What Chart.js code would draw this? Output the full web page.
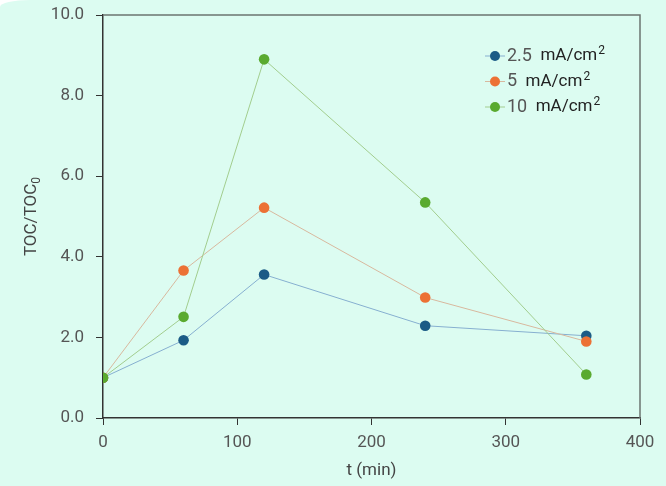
<!DOCTYPE html>
<html>
<head>
<meta charset="utf-8">
<script src="https://cdn.jsdelivr.net/npm/chart.js@4.4.1/dist/chart.umd.min.js"></script>
<style>
  html, body { margin:0; padding:0; background:#ffffff; }
  #wrap { position:absolute; left:0; top:0; width:666px; height:486px; background:#dcfcf1; border-top-left-radius: 30px 7px; overflow:hidden; }
  canvas { display:block; }
</style>
</head>
<body>
<div id="wrap"><canvas id="c" width="666" height="486"></canvas></div>
<script>
const times = [0, 60, 120, 240, 360];
const seriesNames = ["2.5", "5", "10"];
const unitLabel = "mA/cm";
const toc25 = [1.00, 1.93, 3.56, 2.29, 2.04];
const toc5  = [1.00, 3.66, 5.22, 2.99, 1.90];
const toc10 = [1.00, 2.51, 8.90, 5.35, 1.08];
const yTicks = [0, 2, 4, 6, 8, 10];
const xTicks = [0, 100, 200, 300, 400];

const markerColors = ["#1b5b86", "#ec7135", "#5aaa30"];
const lineColors = ["#86afd0", "#d8b89e", "#a2cd8e"];
const seriesValues = [toc25, toc5, toc10];

const FONT = "Roboto, 'Liberation Sans', sans-serif";

const datasets = seriesValues.map((vals, i) => ({
  label: seriesNames[i] + " " + unitLabel + "2",
  data: times.map((t, k) => ({x: t, y: vals[k]})),
  borderColor: lineColors[i],
  backgroundColor: markerColors[i],
  pointBackgroundColor: markerColors[i],
  pointBorderColor: markerColors[i],
  pointRadius: 5.3,
  pointBorderWidth: 0,
  borderWidth: 1,
  tension: 0,
  order: 3 - i
}));

const decor = {
  id: 'decor',
  afterDraw(chart) {
    const ctx = chart.ctx;
    const a = chart.chartArea;
    ctx.save();
    ctx.strokeStyle = "#6b7470";
    ctx.lineWidth = 1.5;
    ctx.beginPath();
    ctx.moveTo(a.left, a.top);
    ctx.lineTo(a.right, a.top);
    ctx.lineTo(a.right, a.bottom);
    ctx.stroke();

    ctx.fillStyle = "#444";
    ctx.translate(32, (a.top + a.bottom) / 2);
    ctx.rotate(-Math.PI / 2);
    ctx.font = "17px " + FONT;
    const main = "TOC/TOC";
    const w1 = ctx.measureText(main).width;
    ctx.font = "12px " + FONT;
    const w2 = ctx.measureText("0").width;
    const tot = w1 + w2;
    ctx.textBaseline = "middle";
    ctx.textAlign = "left";
    ctx.font = "17px " + FONT;
    ctx.fillText(main, -tot / 2, 0);
    ctx.font = "12px " + FONT;
    ctx.fillText("0", -tot / 2 + w1, 5);
    ctx.restore();

    ctx.save();
    ctx.fillStyle = "#444";
    ctx.font = "17px " + FONT;
    ctx.textAlign = "center";
    ctx.textBaseline = "middle";
    ctx.fillText("t (min)", (a.left + a.right) / 2, 471);
    ctx.restore();

    ctx.save();
    const lx = 485, ly0 = 56, dy = 25.5;
    seriesNames.forEach((nm, i) => {
      const y = ly0 + i * dy;
      ctx.strokeStyle = lineColors[i];
      ctx.lineWidth = 1;
      ctx.beginPath();
      ctx.moveTo(lx, y);
      ctx.lineTo(lx + 20, y);
      ctx.stroke();
      ctx.fillStyle = markerColors[i];
      ctx.beginPath();
      ctx.arc(lx + 10, y, 5, 0, Math.PI * 2);
      ctx.fill();
      ctx.textBaseline = "middle";
      ctx.textAlign = "left";
      ctx.font = "18px " + FONT;
      ctx.fillStyle = "#555";
      let x = lx + 22;
      ctx.fillText(nm, x, y);
      x += ctx.measureText(nm + " ").width + 4;
      ctx.fillStyle = "#222";
      ctx.font = "17px " + FONT;
      ctx.fillText(unitLabel, x, y);
      x += ctx.measureText(unitLabel).width + 1;
      ctx.font = "12px " + FONT;
      ctx.fillText("2", x, y - 5);
    });
    ctx.restore();
  }
};

new Chart(document.getElementById('c'), {
  type: 'line',
  data: { datasets },
  options: {
    responsive: false,
    animation: false,
    events: [],
    layout: { padding: { top: 15, right: 26, left: 0, bottom: 0 } },
    plugins: { legend: { display: false }, tooltip: { enabled: false } },
    scales: {
      x: {
        type: 'linear', min: 0, max: 400,
        afterBuildTicks: s => { s.ticks = xTicks.map(v => ({value: v})); },
        afterFit: s => { s.height = 68; s.paddingLeft = 0; s.paddingRight = 0; },
        grid: { drawOnChartArea: false, drawTicks: true, tickLength: 7, color: "#333", lineWidth: 1 },
        border: { color: "#333", width: 1.5 },
        ticks: { color: "#555", font: { family: FONT, size: 17 }, padding: 8, maxRotation: 0, callback: v => String(v) }
      },
      y: {
        type: 'linear', min: 0, max: 10,
        afterBuildTicks: s => { s.ticks = yTicks.map(v => ({value: v})); },
        afterFit: s => { s.width = 103; s.paddingTop = 0; s.paddingBottom = 0; },
        grid: { drawOnChartArea: false, drawTicks: true, tickLength: 7, color: "#333", lineWidth: 1 },
        border: { color: "#333", width: 1.5 },
        ticks: { color: "#555", font: { family: FONT, size: 17 }, padding: 12, callback: v => Number(v).toFixed(1) }
      }
    }
  },
  plugins: [decor]
});
</script>
</body>
</html>
